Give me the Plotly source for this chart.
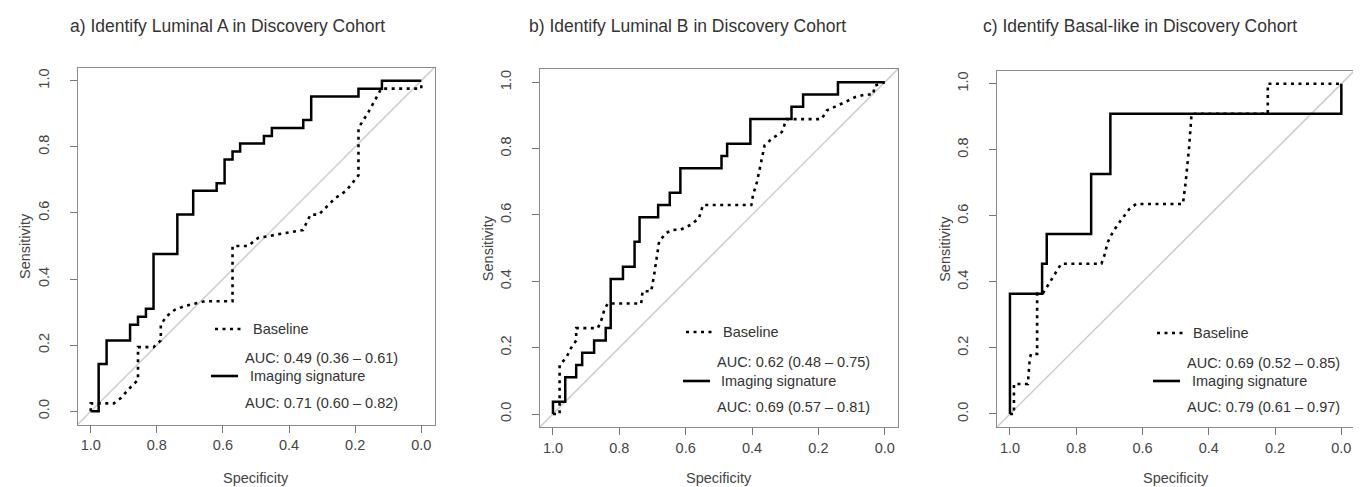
import plotly.graph_objects as go

# ---------------- data ----------------
titles = [
    "a) Identify Luminal A in Discovery Cohort",
    "b) Identify Luminal B in Discovery Cohort",
    "c) Identify Basal-like in Discovery Cohort",
]
series_names = ["Baseline", "Imaging signature"]
base_auc = ["AUC: 0.49 (0.36 \u2013 0.61)", "AUC: 0.62 (0.48 \u2013 0.75)", "AUC: 0.69 (0.52 \u2013 0.85)"]
img_auc = ["AUC: 0.71 (0.60 \u2013 0.82)", "AUC: 0.69 (0.57 \u2013 0.81)", "AUC: 0.79 (0.61 \u2013 0.97)"]
x_title = "Specificity"
y_title = "Sensitivity"
tick_vals = [0.0, 0.2, 0.4, 0.6, 0.8, 1.0]
tick_text = ["0.0", "0.2", "0.4", "0.6", "0.8", "1.0"]

# Panel a - Luminal A
a_base_spec = [1.0, 1.0, 0.93, 0.909, 0.887, 0.867, 0.857, 0.857, 0.81, 0.788, 0.788, 0.771, 0.746, 0.716,
               0.685, 0.655, 0.571, 0.571, 0.524, 0.494, 0.43, 0.358, 0.335, 0.31, 0.285, 0.26, 0.227,
               0.19, 0.19, 0.16, 0.121, 0.0, 0.0]
a_base_sens = [0.0, 0.024, 0.024, 0.04, 0.065, 0.086, 0.095, 0.194, 0.194, 0.214, 0.262, 0.287, 0.307, 0.318,
               0.325, 0.333, 0.333, 0.5, 0.5, 0.524, 0.536, 0.548, 0.595, 0.595, 0.62, 0.645, 0.667,
               0.714, 0.857, 0.905, 0.976, 0.976, 1.0]
a_img_spec = [1.0, 0.976, 0.976, 0.952, 0.952, 0.881, 0.881, 0.857, 0.857, 0.833, 0.833, 0.81, 0.81, 0.738,
              0.738, 0.69, 0.69, 0.619, 0.619, 0.595, 0.595, 0.571, 0.571, 0.548, 0.548, 0.476, 0.476,
              0.452, 0.452, 0.357, 0.357, 0.333, 0.333, 0.19, 0.19, 0.119, 0.119, 0.0]
a_img_sens = [0.0, 0.0, 0.143, 0.143, 0.214, 0.214, 0.262, 0.262, 0.286, 0.286, 0.31, 0.31, 0.476, 0.476,
              0.595, 0.595, 0.667, 0.667, 0.69, 0.69, 0.762, 0.762, 0.786, 0.786, 0.81, 0.81, 0.833,
              0.833, 0.857, 0.857, 0.881, 0.881, 0.952, 0.952, 0.976, 0.976, 1.0, 1.0]

# Panel b - Luminal B
b_base_spec = [1.0, 0.98, 0.98, 0.96, 0.945, 0.93, 0.93, 0.865, 0.855, 0.845, 0.835, 0.734, 0.73, 0.704,
               0.695, 0.685, 0.68, 0.66, 0.64, 0.615, 0.585, 0.56, 0.548, 0.402, 0.397, 0.385, 0.375,
               0.362, 0.34, 0.31, 0.296, 0.19, 0.175, 0.15, 0.12, 0.09, 0.06, 0.035, 0.03, 0.0]
b_base_sens = [0.0, 0.0, 0.148, 0.17, 0.2, 0.222, 0.259, 0.259, 0.28, 0.315, 0.333, 0.333, 0.37, 0.37,
               0.42, 0.48, 0.52, 0.545, 0.555, 0.556, 0.57, 0.59, 0.63, 0.63, 0.66, 0.7, 0.75,
               0.81, 0.83, 0.85, 0.889, 0.889, 0.915, 0.926, 0.94, 0.955, 0.963, 0.963, 0.99, 1.0]
b_img_spec = [1.0, 1.0, 0.963, 0.963, 0.93, 0.93, 0.912, 0.912, 0.876, 0.876, 0.841, 0.841, 0.826, 0.826,
              0.789, 0.789, 0.754, 0.754, 0.739, 0.739, 0.683, 0.683, 0.648, 0.648, 0.616, 0.616, 0.492,
              0.492, 0.475, 0.475, 0.405, 0.405, 0.281, 0.281, 0.246, 0.246, 0.141, 0.141, 0.0]
b_img_sens = [0.0, 0.037, 0.037, 0.111, 0.111, 0.148, 0.148, 0.185, 0.185, 0.222, 0.222, 0.259, 0.259, 0.407,
              0.407, 0.444, 0.444, 0.519, 0.519, 0.593, 0.593, 0.63, 0.63, 0.667, 0.667, 0.741, 0.741,
              0.778, 0.778, 0.815, 0.815, 0.889, 0.889, 0.926, 0.926, 0.963, 0.963, 1.0, 1.0]

# Panel c - Basal-like
c_base_spec = [1.0, 0.988, 0.988, 0.946, 0.94, 0.936, 0.918, 0.918, 0.9, 0.885, 0.865, 0.845, 0.724, 0.715,
               0.705, 0.69, 0.67, 0.655, 0.64, 0.619, 0.478, 0.47, 0.46, 0.452, 0.222, 0.222, 0.0]
c_base_sens = [0.0, 0.0, 0.091, 0.091, 0.17, 0.182, 0.182, 0.364, 0.366, 0.39, 0.42, 0.455, 0.455, 0.48,
               0.52, 0.55, 0.58, 0.6, 0.62, 0.636, 0.636, 0.7, 0.8, 0.909, 0.909, 1.0, 1.0]
c_img_spec = [1.0, 1.0, 0.903, 0.903, 0.889, 0.889, 0.755, 0.755, 0.697, 0.697, 0.0, 0.0]
c_img_sens = [0.0, 0.364, 0.364, 0.455, 0.455, 0.545, 0.545, 0.727, 0.727, 0.909, 0.909, 1.0]

panels = [
    (a_base_spec, a_base_sens, a_img_spec, a_img_sens),
    (b_base_spec, b_base_sens, b_img_spec, b_img_sens),
    (c_base_spec, c_base_sens, c_img_spec, c_img_sens),
]

# ---------------- layout / style ----------------
W, H = 1361, 487
FONT = "Liberation Sans, Arial, Helvetica, sans-serif"
TXT = "#333333"
XR = [1.04, -0.04]
YR = [-0.04, 1.04]
DOT = "3px,4.5px"

# plot boxes in pixels: (left, right, top, bottom)
boxes = [(69.5, 426.5, 59.5, 416.5), (531.7, 890.0, 61.0, 419.3), (988.7, 1346.6, 62.5, 419.2)]
title_x = [60, 519, 973]
ylab_x = [17, 480, 937]
leg = [
    dict(d=(207, 235, 321), s=(203, 230, 368), tb=243, ti=240, auc=235, y1=350, y2=395),
    dict(d=(678, 706, 324), s=(675, 702, 373), tb=713, ti=711, auc=707, y1=354, y2=399),
    dict(d=(1149, 1176, 325), s=(1145, 1172, 373), tb=1183, ti=1182, auc=1177, y1=355, y2=399),
]


def px(x):
    return x / W


def py(y):
    return 1 - y / H


fig = go.Figure()
annotations = []
shapes = []

for i, (bs, bn, ims, imn) in enumerate(panels):
    k = "" if i == 0 else str(i + 1)
    xa, ya = "x" + k, "y" + k
    L, R, T, B = boxes[i]
    fig.add_trace(go.Scatter(x=bs, y=bn, mode="lines", name=series_names[0], showlegend=False,
                             line=dict(color="black", width=2.6, dash=DOT), xaxis=xa, yaxis=ya,
                             hoverinfo="skip"))
    fig.add_trace(go.Scatter(x=ims, y=imn, mode="lines", name=series_names[1], showlegend=False,
                             line=dict(color="black", width=2.5), xaxis=xa, yaxis=ya,
                             hoverinfo="skip"))
    axcommon = dict(showgrid=False, zeroline=False, showline=True, linecolor="#8a8a8a", linewidth=1,
                    mirror=True, ticks="outside", ticklen=7, tickcolor="#777777", tickwidth=1,
                    tickvals=tick_vals, ticktext=tick_text,
                    tickfont=dict(family=FONT, size=14.5, color="#444444"), fixedrange=True)
    fig.update_layout(**{
        "xaxis" + k: dict(axcommon, domain=[px(L), px(R)], range=XR, anchor=ya, ticklabelstandoff=0),
        "yaxis" + k: dict(axcommon, domain=[py(B), py(T)], range=YR, anchor=xa, tickangle=-90,
                          ticklabelstandoff=15),
    })
    shapes.append(dict(type="line", xref=xa, yref=ya, x0=XR[0], y0=YR[0], x1=XR[1], y1=YR[1],
                       line=dict(color="#cccccc", width=1.5), layer="below"))
    annotations.append(dict(text=titles[i], x=px(title_x[i]), y=py(18), xref="paper", yref="paper",
                            xanchor="left", yanchor="middle", showarrow=False,
                            font=dict(family=FONT, size=17.5, color=TXT)))
    annotations.append(dict(text=x_title, x=px((L + R) / 2), y=py(470), xref="paper", yref="paper",
                            xanchor="center", yanchor="middle", showarrow=False,
                            font=dict(family=FONT, size=14.5, color="#444444")))
    annotations.append(dict(text=y_title, x=px(ylab_x[i]), y=py((T + B) / 2), xref="paper", yref="paper",
                            xanchor="center", yanchor="middle", showarrow=False, textangle=-90,
                            font=dict(family=FONT, size=14.5, color="#444444")))
    g = leg[i]
    shapes.append(dict(type="line", xref="paper", yref="paper", x0=px(g["d"][0]), x1=px(g["d"][1]),
                       y0=py(g["d"][2]), y1=py(g["d"][2]), line=dict(color="black", width=2.6, dash=DOT)))
    shapes.append(dict(type="line", xref="paper", yref="paper", x0=px(g["s"][0]), x1=px(g["s"][1]),
                       y0=py(g["s"][2]), y1=py(g["s"][2]), line=dict(color="black", width=2.6)))
    for txt, xx, yy in [(series_names[0], g["tb"], g["d"][2]), (base_auc[i], g["auc"], g["y1"]),
                        (series_names[1], g["ti"], g["s"][2]), (img_auc[i], g["auc"], g["y2"])]:
        annotations.append(dict(text=txt, x=px(xx), y=py(yy), xref="paper", yref="paper",
                                xanchor="left", yanchor="middle", showarrow=False,
                                font=dict(family=FONT, size=14.5, color=TXT)))

fig.update_layout(width=W, height=H, margin=dict(l=0, r=0, t=0, b=0),
                  paper_bgcolor="white", plot_bgcolor="white",
                  annotations=annotations, shapes=shapes, showlegend=False)

fig.write_html("out.html")
